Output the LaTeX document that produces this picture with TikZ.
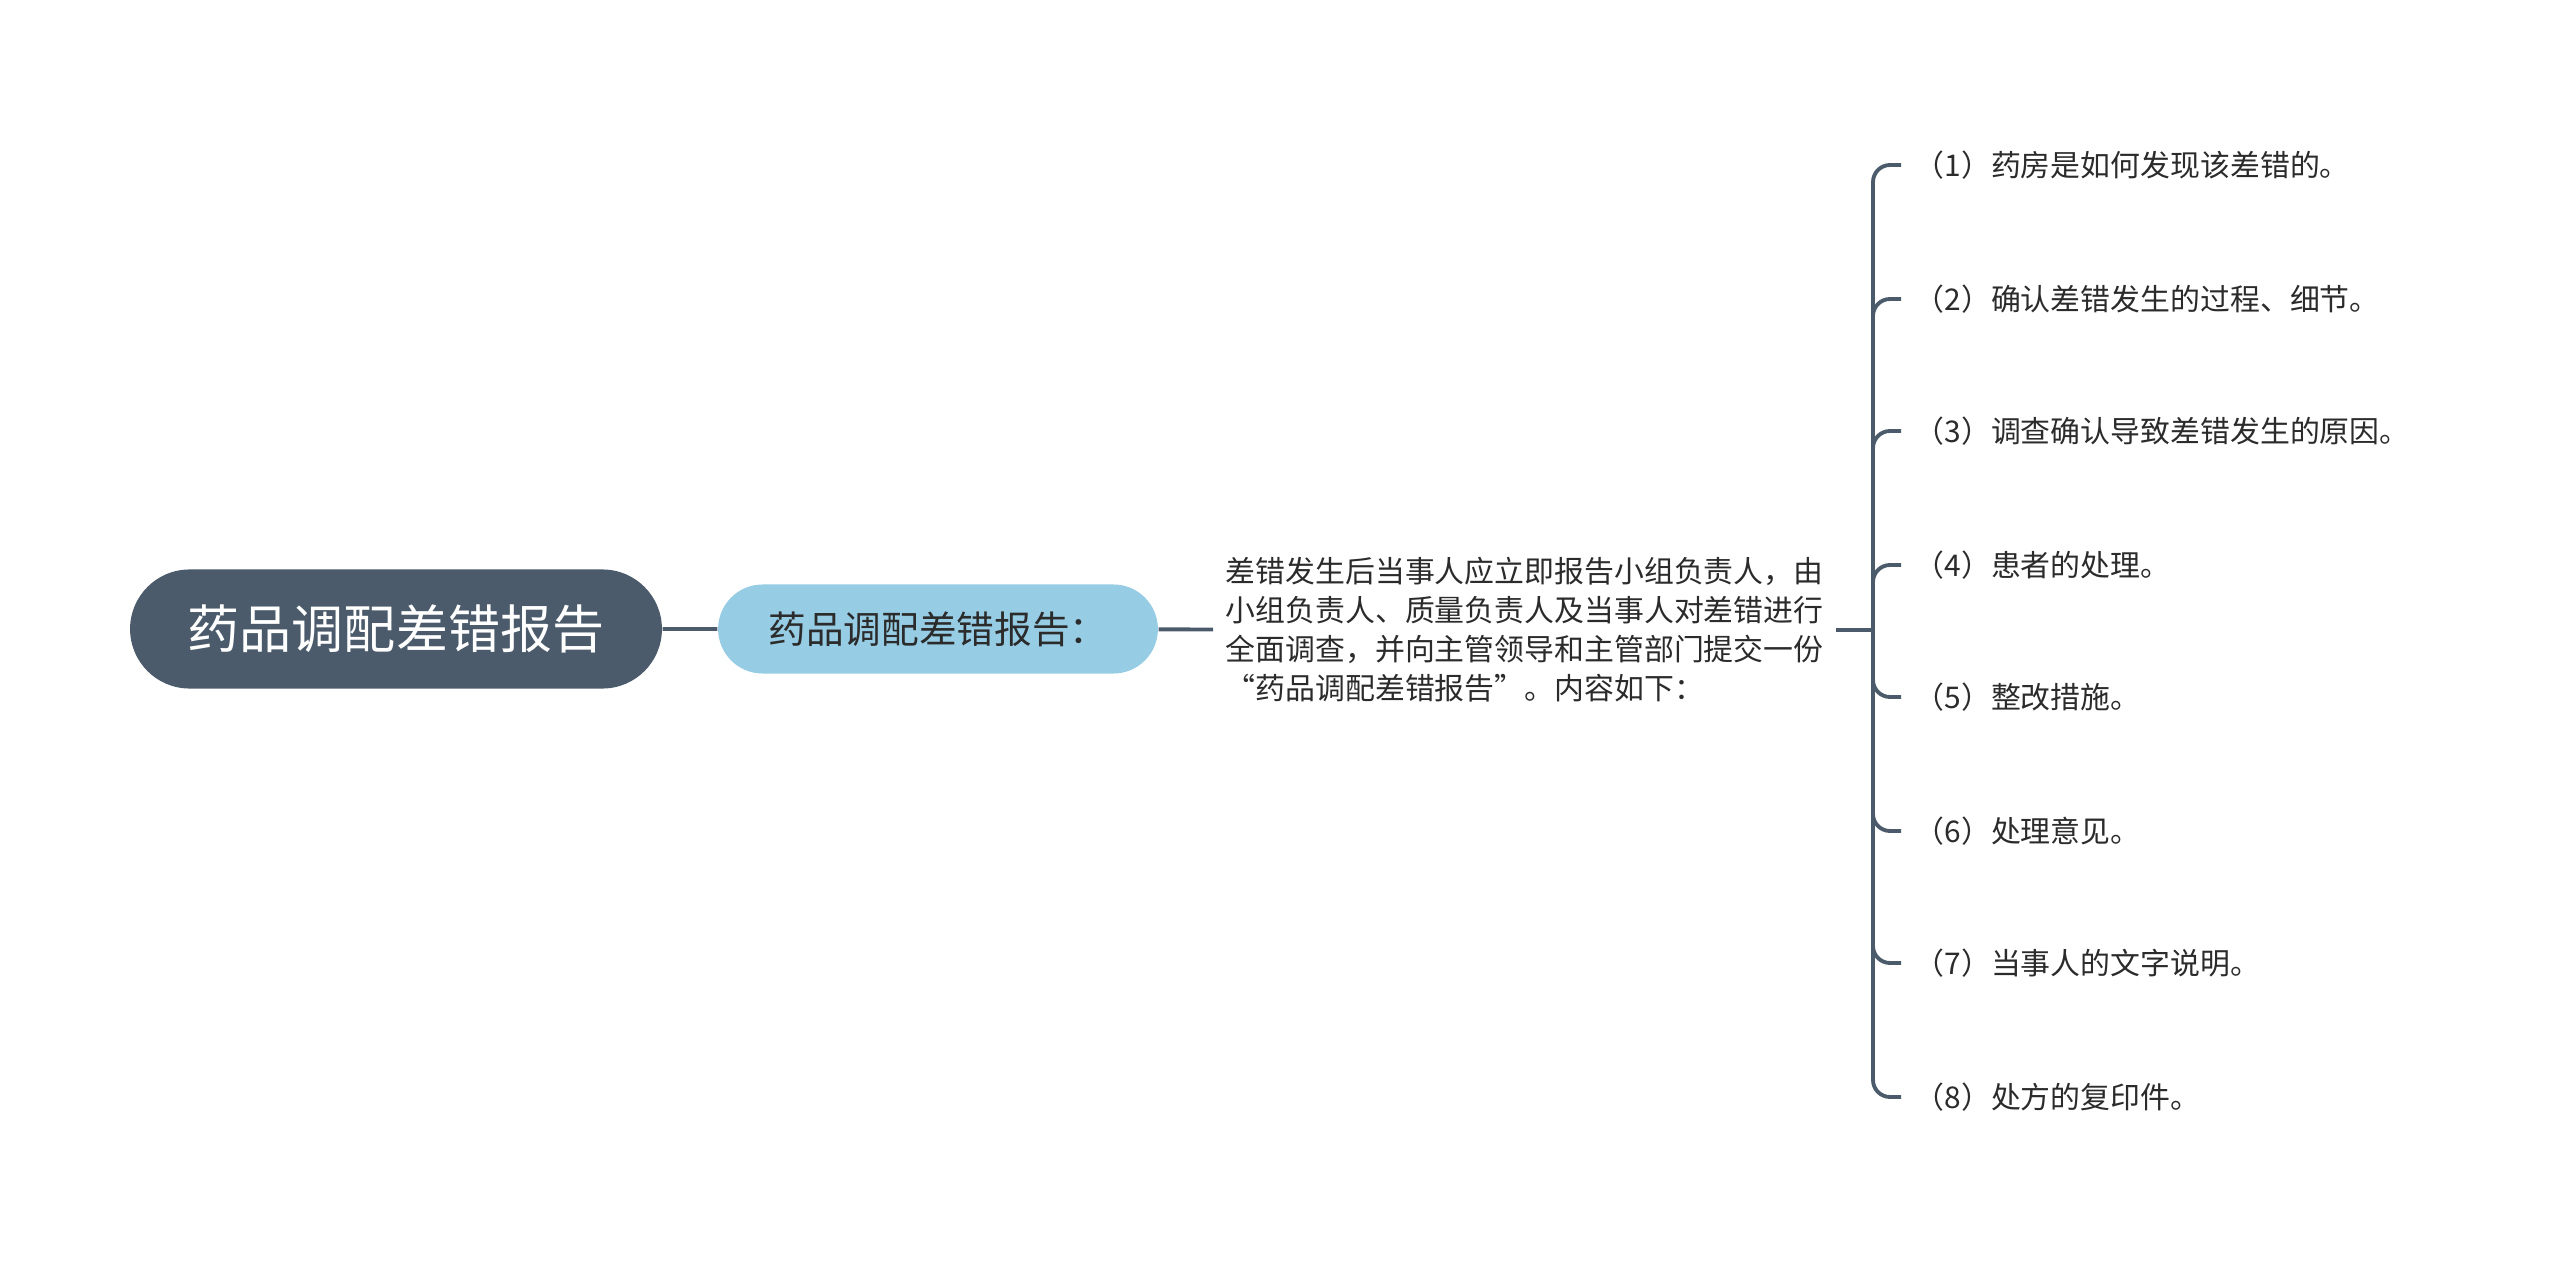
\documentclass[tikz,border=0pt]{standalone}
\usepackage{fontspec}
\setmainfont{Noto Sans CJK SC}
\usetikzlibrary{positioning,shapes.misc}
\definecolor{rootgray}{HTML}{4B5B6B}
\definecolor{subblue}{HTML}{96CCE4}
\definecolor{txtdark}{HTML}{2B2B2B}

\begin{document}
\begin{tikzpicture}[x=0.01cm, y=-0.01cm,
    conn/.style = {draw=rootgray, line width=1.1pt},
    rootbox/.style = {rounded rectangle, fill=rootgray, text=white,
      minimum width=5.55cm, minimum height=1.19cm,
      font=\fontsize{14.8}{17}\selectfont},
    subbox/.style = {rounded rectangle, fill=subblue, text=txtdark,
      minimum width=4.63cm, minimum height=0.89cm,
      font=\fontsize{10.7}{13}\selectfont},
    para/.style = {inner xsep=0.12cm, inner ysep=0pt, align=left, text=txtdark,
      font=\fontsize{8.5}{11.1}\selectfont},
    item/.style = {inner sep=0pt, anchor=west, text=txtdark,
      font=\fontsize{8.5}{11}\selectfont}
  ]
  \useasboundingbox (0,0) rectangle (2560,1261);

  \node[rootbox]             (root) at (396,629)  {药品调配差错报告};
  \node[subbox]              (sub)  at (938,629)  {药品调配差错报告：};
  \node[para, anchor=west]   (desc) at (1213,630) {差错发生后当事人应立即报告小组负责人，由\\
    小组负责人、质量负责人及当事人对差错进行\\
    全面调查，并向主管领导和主管部门提交一份\\
    “药品调配差错报告”。内容如下：};
  \coordinate (hub) at (1873,630);

  \node[item] (i_1) at (1914,165)  {（1）药房是如何发现该差错的。};
  \node[item] (i_2) at (1914,299)  {（2）确认差错发生的过程、细节。};
  \node[item] (i_3) at (1914,431)  {（3）调查确认导致差错发生的原因。};
  \node[item] (i_4) at (1914,565)  {（4）患者的处理。};
  \node[item] (i_5) at (1914,697)  {（5）整改措施。};
  \node[item] (i_6) at (1914,831)  {（6）处理意见。};
  \node[item] (i_7) at (1914,963)  {（7）当事人的文字说明。};
  \node[item] (i_8) at (1914,1097) {（8）处方的复印件。};

  \draw[conn] (root) -- (sub);
  \draw[conn] (sub) -- (desc);
  \draw[conn] (desc) -- (hub);
  \foreach \i in {1,...,8}
    \draw[conn, rounded corners=0.17cm] (hub) |- ([xshift=-0.13cm]i_\i.west);
\end{tikzpicture}
\end{document}
